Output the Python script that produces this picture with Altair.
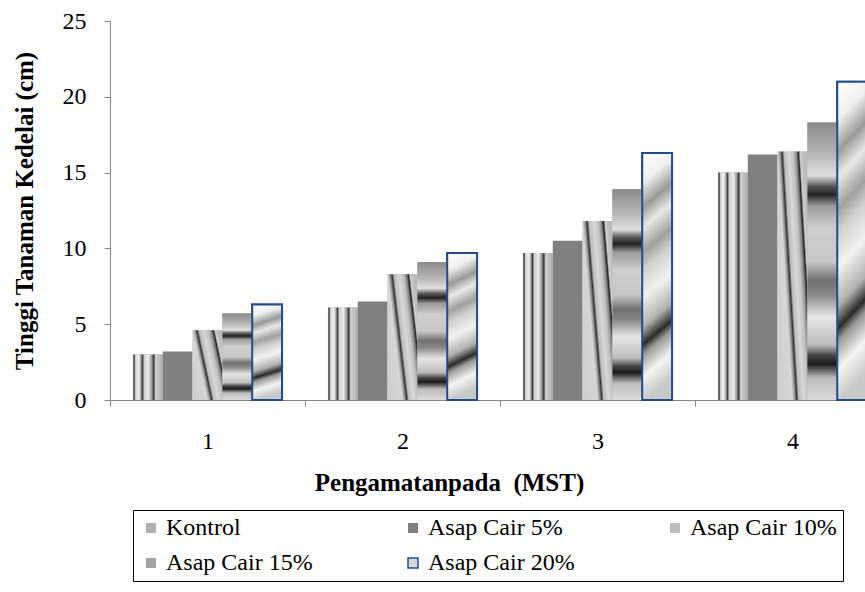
import altair as alt
import pandas as pd

weeks = ["1", "2", "3", "4"]
series = ["Kontrol", "Asap Cair 5%", "Asap Cair 10%", "Asap Cair 15%", "Asap Cair 20%"]
kontrol = [3.0, 6.1, 9.7, 15.0]
asap5 = [3.2, 6.5, 10.5, 16.2]
asap10 = [4.6, 8.3, 11.8, 16.4]
asap15 = [5.7, 9.1, 13.9, 18.3]
asap20 = [6.3, 9.7, 16.3, 21.0]
y_ticks = [0, 5, 10, 15, 20, 25]

values = [kontrol, asap5, asap10, asap15, asap20]
rows = []
for s, vals in zip(series, values):
    for w, v in zip(weeks, vals):
        rows.append({"week": w, "series": s, "value": v})
df = pd.DataFrame(rows)

FONT = "'Liberation Serif', 'Times New Roman', Times, serif"
AXIS_GRAY = "#868686"


def grad(x1, y1, x2, y2, stops):
    return {"gradient": "linear", "x1": x1, "y1": y1, "x2": x2, "y2": y2,
            "stops": [{"offset": o, "color": c} for o, c in stops]}


g_kontrol = grad(0, 0, 1, 0, [(0, "#9a9a9a"), (0.04, "#3a3a3a"), (0.09, "#d8d8d8"), (0.2, "#f0f0f0"),
                              (0.27, "#a0a0a0"), (0.32, "#404040"), (0.38, "#cfcfcf"), (0.52, "#ececec"),
                              (0.63, "#9a9a9a"), (0.7, "#333333"), (0.76, "#d0d0d0"), (0.9, "#bdbdbd"),
                              (1, "#a8a8a8")])
g_10 = grad(0, 0.75, 1, 0.25, [(0, "#cfcfcf"), (0.3, "#d5d5d5"), (0.36, "#999999"), (0.42, "#333333"),
                               (0.47, "#bbbbbb"), (0.6, "#d8d8d8"), (0.72, "#c0c0c0"), (0.8, "#888888"),
                               (0.86, "#222222"), (0.9, "#cccccc"), (1, "#bbbbbb")])
g_15 = grad(0, 0, 0, 1, [(0, "#8a8a8a"), (0.12, "#b8b8b8"), (0.19, "#e0e0e0"), (0.23, "#555555"),
                         (0.26, "#222222"), (0.3, "#9a9a9a"), (0.38, "#cdcdcd"), (0.5, "#c8c8c8"),
                         (0.57, "#707070"), (0.62, "#888888"), (0.7, "#e6e6e6"), (0.8, "#bdbdbd"),
                         (0.84, "#444444"), (0.87, "#1a1a1a"), (0.92, "#bbbbbb"), (1, "#dcdcdc")])
g_20 = grad(0, 0, 0.1, 1, [(0, "#ffffff"), (0.12, "#f0f0f0"), (0.22, "#9a9a9a"), (0.3, "#e8e8e8"),
                           (0.4, "#a0a0a0"), (0.47, "#d0d0d0"), (0.58, "#f2f2f2"), (0.7, "#b0b0b0"),
                           (0.77, "#2a2a2a"), (0.81, "#999999"), (0.9, "#f4f4f4"), (1, "#c8c8c8")])

x_enc = alt.X(
    "week:N",
    scale=alt.Scale(domain=weeks, range=[0, 780], paddingInner=0, paddingOuter=0),
    axis=alt.Axis(
        title="Pengamatanpada\u00a0 (MST)", labelAngle=0, tickBand="extent",
        domainColor=AXIS_GRAY, tickColor=AXIS_GRAY, tickSize=6, labelPadding=23,
        labelFont=FONT, labelFontSize=24, labelColor="black",
        titleFont=FONT, titleFontSize=25, titleFontWeight="bold", titleColor="black",
        titlePadding=17, titleX=339, grid=False,
    ),
)
y_enc = alt.Y(
    "value:Q",
    scale=alt.Scale(domain=[0, 25]),
    axis=alt.Axis(
        title="Tinggi Tanaman Kedelai (cm)", values=y_ticks, grid=False,
        domainColor=AXIS_GRAY, tickColor=AXIS_GRAY, tickSize=6, labelPadding=18,
        labelFont=FONT, labelFontSize=24, labelColor="black",
        titleFont=FONT, titleFontSize=25, titleFontWeight="bold", titleColor="black",
        titlePadding=25,
    ),
)
xo_enc = alt.XOffset("series:N", scale=alt.Scale(domain=series, paddingInner=0, paddingOuter=0.77))

legend = alt.Legend(
    title=None, orient="none", legendX=23, legendY=489, columns=3, direction="horizontal",
    strokeColor="black", fillColor="white", padding=6, columnPadding=88, rowPadding=11,
    symbolType="square", symbolSize=100, symbolStrokeWidth=1.5,
    labelFont=FONT, labelFontSize=24, labelColor="black", labelOffset=3,
)

base = alt.Chart(df).mark_bar(strokeWidth=2).encode(
    x=x_enc, y=y_enc, xOffset=xo_enc,
    color=alt.Color("series:N", scale=alt.Scale(
        domain=series, range=["#b0b0b0", "#808080", "#bdbdbd", "#a4a4a4", "#d8d8d8"]), legend=legend),
    stroke=alt.Stroke("series:N", scale=alt.Scale(
        domain=series, range=["transparent", "transparent", "transparent", "transparent", "#1F4E8C"]),
        legend=legend),
)


def overlay(name, fill, **kw):
    return alt.Chart(df).transform_filter(alt.datum.series == name).mark_bar(fill=fill, **kw).encode(
        x=x_enc, y=y_enc, xOffset=xo_enc)


layers = [
    base,
    overlay("Kontrol", g_kontrol),
    overlay("Asap Cair 10%", g_10),
    overlay("Asap Cair 15%", g_15),
    overlay("Asap Cair 20%", g_20, stroke="#1F4E8C", strokeWidth=2),
]

chart = alt.layer(*layers).properties(
    width=755, height=379,
    autosize=alt.AutoSizeParams(type="none"),
    padding={"left": 110, "top": 21, "right": 0, "bottom": 192},
    background="white",
).configure_view(stroke=None)

chart.save("out.html", embed_options={"renderer": "svg", "actions": False})
